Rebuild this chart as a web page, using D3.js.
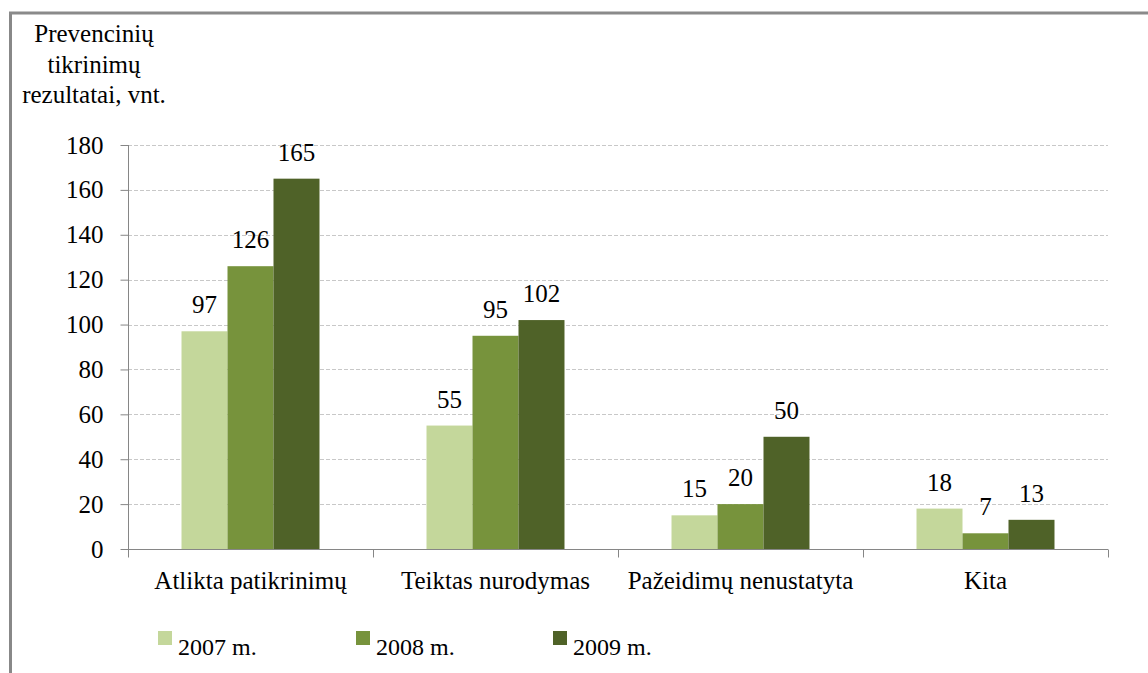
<!DOCTYPE html>
<html>
<head>
<meta charset="utf-8">
<script src="https://cdn.jsdelivr.net/npm/d3@7"></script>
<style>
  body { margin: 0; background: #fff; }
</style>
</head>
<body>
<div id="chart"></div>
<script>
// data
var categories = ["Atlikta patikrinimų", "Teiktas nurodymas", "Pažeidimų nenustatyta", "Kita"];
var seriesNames = ["2007 m.", "2008 m.", "2009 m."];
var values2007 = [97, 55, 15, 18];
var values2008 = [126, 95, 20, 7];
var values2009 = [165, 102, 50, 13];
var yTicks = [0, 20, 40, 60, 80, 100, 120, 140, 160, 180];
var titleLines = ["Prevencinių", "tikrinimų", "rezultatai, vnt."];
var colors = ["#c4d79b", "#77933c", "#4f6228"];

var FONT = "'Liberation Serif', 'Times New Roman', Times, Tinos, 'Nimbus Roman', 'Nimbus Roman No9 L', FreeSerif, 'DejaVu Serif', 'Noto Serif', serif";
var W = 1148, H = 673;
var series = [values2007, values2008, values2009];

var svg = d3.select("#chart").append("svg")
  .attr("width", W)
  .attr("height", H)
  .style("font-family", FONT);

// frame (only left and top edges visible)
svg.append("line").attr("x1", 10.5).attr("x2", 10.5).attr("y1", 12).attr("y2", H)
  .attr("stroke", "#888").attr("stroke-width", 3);
svg.append("line").attr("x1", 9).attr("x2", W).attr("y1", 13).attr("y2", 13)
  .attr("stroke", "#8a8a8a").attr("stroke-width", 3);

var plot = { left: 128, right: 1108, top: 145, bottom: 549 };

var y = d3.scaleLinear()
  .domain([0, 180])
  .range([plot.bottom, plot.top]);

var x0 = d3.scaleBand()
  .domain(categories)
  .range([plot.left, plot.right])
  .padding(0);

var bw = x0.bandwidth();
var x1 = d3.scaleBand()
  .domain(d3.range(seriesNames.length))
  .range([bw * 0.2184, bw * 0.7816])
  .padding(0);

// gridlines
svg.append("g").selectAll("line")
  .data(yTicks.filter(d => d > 0))
  .enter().append("line")
    .attr("x1", plot.left).attr("x2", plot.right)
    .attr("y1", d => Math.round(y(d)) + 0.5).attr("y2", d => Math.round(y(d)) + 0.5)
    .attr("stroke", "#c8c8c8")
    .attr("stroke-dasharray", "4,2");

// bars
var groups = svg.append("g").selectAll("g")
  .data(categories)
  .enter().append("g")
    .attr("transform", d => "translate(" + x0(d) + ",0)");

groups.selectAll("rect")
  .data((c, ci) => series.map((s, si) => ({ si: si, v: s[ci] })))
  .enter().append("rect")
    .attr("x", d => x1(d.si))
    .attr("width", x1.bandwidth())
    .attr("y", d => y(d.v))
    .attr("height", d => y(0) - y(d.v))
    .attr("fill", d => colors[d.si]);

// value labels
groups.selectAll("text")
  .data((c, ci) => series.map((s, si) => ({ si: si, v: s[ci] })))
  .enter().append("text")
    .attr("x", d => x1(d.si) + x1.bandwidth() / 2)
    .attr("y", d => y(d.v) - 18)
    .attr("text-anchor", "middle")
    .attr("font-family", FONT)
    .attr("font-size", 25)
    .text(d => d.v);

// y axis
var yAxis = svg.append("g")
  .attr("transform", "translate(" + (plot.left + 0.5) + ",0)")
  .call(d3.axisLeft(y).tickValues(yTicks).tickSize(8).tickPadding(17));
yAxis.attr("font-family", FONT).attr("font-size", 25);
yAxis.select(".domain").attr("stroke", "#868686").attr("d", "M0," + plot.top + "V" + plot.bottom);
yAxis.selectAll(".tick line").attr("stroke", "#868686");
yAxis.selectAll(".tick text")
  .attr("fill", "#000")
  .attr("dy", "0.32em");

// x axis
var xAxisG = svg.append("g")
  .attr("transform", "translate(0," + (plot.bottom + 0.5) + ")");
xAxisG.append("line")
  .attr("x1", plot.left).attr("x2", plot.right)
  .attr("stroke", "#868686");
xAxisG.selectAll(".sep")
  .data(categories.concat(["end"]))
  .enter().append("line")
    .attr("class", "sep")
    .attr("x1", (d, i) => Math.round(plot.left + i * bw) + 0.5)
    .attr("x2", (d, i) => Math.round(plot.left + i * bw) + 0.5)
    .attr("y1", 0).attr("y2", 8)
    .attr("stroke", "#868686");
xAxisG.selectAll(".cat")
  .data(categories)
  .enter().append("text")
    .attr("class", "cat")
    .attr("x", d => x0(d) + bw / 2)
    .attr("y", 39)
    .attr("text-anchor", "middle")
    .attr("font-family", FONT)
    .attr("font-size", 25)
    .text(d => d);

// axis title
svg.append("g").selectAll("text")
  .data(titleLines)
  .enter().append("text")
    .attr("x", 94)
    .attr("y", (d, i) => 42 + i * 30.5)
    .attr("text-anchor", "middle")
    .attr("font-family", FONT)
    .attr("font-size", 25)
    .text(d => d);

// legend
var legendX = [158, 356, 553];
var legend = svg.append("g").selectAll("g")
  .data(seriesNames)
  .enter().append("g")
    .attr("transform", (d, i) => "translate(" + legendX[i] + ",631)");
legend.append("rect")
  .attr("width", 14).attr("height", 14)
  .attr("fill", (d, i) => colors[i]);
legend.append("text")
  .attr("x", 20)
  .attr("y", 24)
  .attr("font-family", FONT)
  .attr("font-size", 24)
  .text(d => d);
</script>
</body>
</html>
